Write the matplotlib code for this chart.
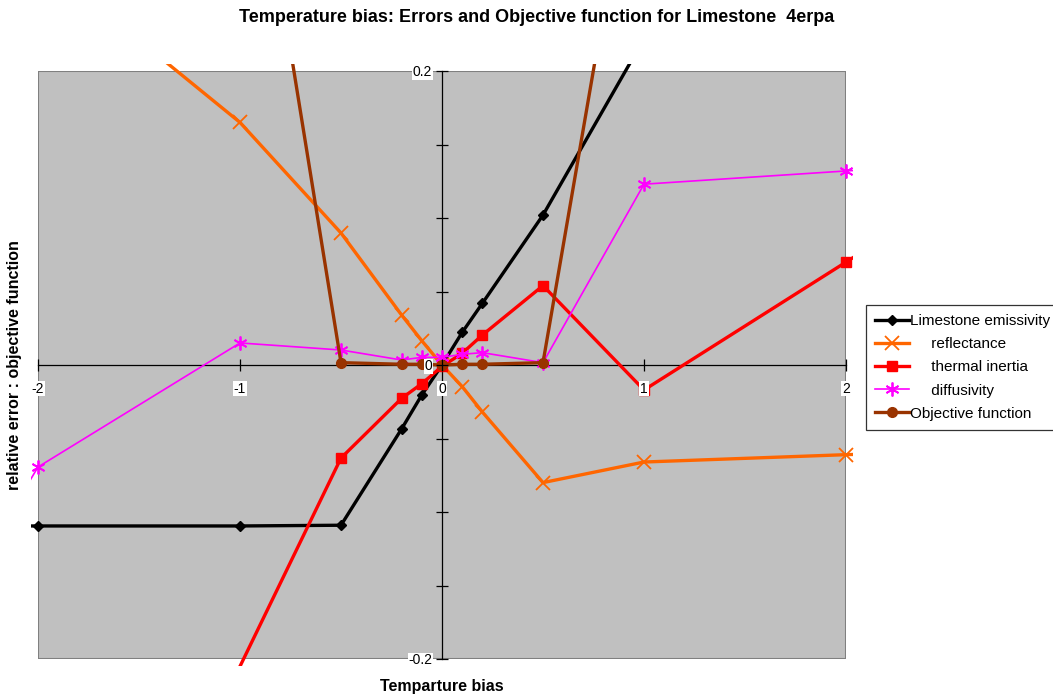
import numpy as np
import matplotlib
matplotlib.use("Agg")
import matplotlib.pyplot as plt
from matplotlib.patches import Rectangle

plt.rcParams['font.family'] = ['Liberation Sans', 'DejaVu Sans']

# temperature bias steps (outer points at +-3 lie beyond the axis range)
bias = [-3, -2, -1, -0.5, -0.2, -0.1, 0, 0.1, 0.2, 0.5, 1, 2, 3]

emissivity = [-0.1095, -0.1095, -0.1095, -0.109, -0.0435, -0.0204, 0.0, 0.0222, 0.042, 0.102, 0.222, 0.44, 0.66]
reflectance = [0.39, 0.277, 0.165, 0.0898, 0.034, 0.0165, 0.0, -0.0147, -0.032, -0.080, -0.066, -0.061, -0.057]
thermal_inertia = [-0.45, -0.40, -0.205, -0.0633, -0.0227, -0.0127, -0.001, 0.008, 0.0204, 0.054, -0.017, 0.070, 0.157]
diffusivity = [-0.30, -0.0694, 0.015, 0.0102, 0.0034, 0.0052, 0.0052, 0.0073, 0.0084, 0.0016, 0.123, 0.132, 0.14]
objective = [1.6, 1.2, 0.427, 0.0016, 0.0005, 0.0005, 0.0, 0.0005, 0.0005, 0.0016, 0.40, 1.2, 1.6]

series = [
    ("Limestone emissivity", emissivity, "black", "D", 5, 2.4),
    ("     reflectance", reflectance, "#FF6600", "x", 10, 2.4),
    ("     thermal inertia", thermal_inertia, "#FF0000", "s", 7, 2.4),
    ("     diffusivity", diffusivity, "#FF00FF", (6, 2, 0), 10, 1.2),
    ("Objective function", objective, "#993300", "o", 7, 2.4),
]

XMIN, XMAX, YMIN, YMAX = -2, 2, -0.2, 0.2

fig = plt.figure(figsize=(10.53, 6.97), dpi=100)
ax = fig.add_axes([38 / 1053, 38 / 697, 808 / 1053, 588 / 697])
ax.set_facecolor("#C0C0C0")
ax.set_xlim(XMIN, XMAX)
ax.set_ylim(YMIN, YMAX)
ax.set_axisbelow(False)  # tick labels sit on top of the series

# lines run a few pixels past the plot area before being cut
ext_x, ext_y = 7 / 808, 7 / 588
clip = Rectangle((-ext_x, -ext_y), 1 + 2 * ext_x, 1 + 2 * ext_y,
                 transform=ax.transAxes, facecolor="none", edgecolor="none")
ax.add_patch(clip)

for label, vals, color, marker, ms, lw in series:
    # markers only where the point itself sits inside the axis range
    shown = [i for i, (x, y) in enumerate(zip(bias, vals))
             if XMIN <= x <= XMAX and YMIN <= y <= YMAX]
    mew = 1.3 if marker in ("x", (6, 2, 0)) else 1
    line, = ax.plot(bias, vals, color=color, marker=marker, markersize=ms,
                    markevery=shown, linewidth=lw, markeredgewidth=mew,
                    label=label, zorder=2.2)
    line.set_clip_path(clip)

# axes crossing at the origin
for side in ("top", "right"):
    ax.spines[side].set_visible(False)
for side in ("left", "bottom"):
    ax.spines[side].set_position(("data", 0))
    ax.spines[side].set_linewidth(0.9)
    ax.spines[side].set_zorder(2)

frame = Rectangle((0, 0), 1, 1, transform=ax.transAxes, fill=False,
                  edgecolor="#808080", linewidth=1.5, zorder=1)
ax.add_patch(frame)

ax.set_xticks([-2, -1, 0, 1, 2])
ax.set_xticklabels(["-2", "-1", "0", "1", "2"])
ax.set_yticks([-0.2, 0, 0.2])
ax.set_yticklabels(["-0.2", "0", "0.2"])
ax.set_yticks(np.arange(-0.2, 0.201, 0.05), minor=True)
ax.tick_params(axis="both", which="both", direction="inout", length=8,
               width=0.9, labelsize=10, pad=3)
ax.tick_params(axis="x", pad=8)
for lab in ax.get_xticklabels() + ax.get_yticklabels():
    lab.set_bbox(dict(facecolor="white", edgecolor="none", pad=0.5))

fig.text(537 / 1053, 1 - 18 / 697, "Temperature bias: Errors and Objective function for Limestone  4erpa",
         ha="center", va="center", fontsize=13, fontweight="bold")
fig.text(442 / 1053, 1 - 686 / 697, "Temparture bias", ha="center", va="center",
         fontsize=11.5, fontweight="bold")
fig.text(15 / 1053, 1 - 365 / 697, "relative error : objective function", ha="center",
         va="center", rotation=90, fontsize=11.5, fontweight="bold")

leg = fig.legend(loc="upper left", bbox_to_anchor=(866 / 1053, 1 - 305 / 697),
                 fontsize=11, frameon=True, fancybox=False, edgecolor="black",
                 handlelength=2.2, handletextpad=0.05, borderpad=0.6,
                 labelspacing=0.6, borderaxespad=0)
leg.get_frame().set_linewidth(0.9)

fig.savefig("out.png", dpi=100)
